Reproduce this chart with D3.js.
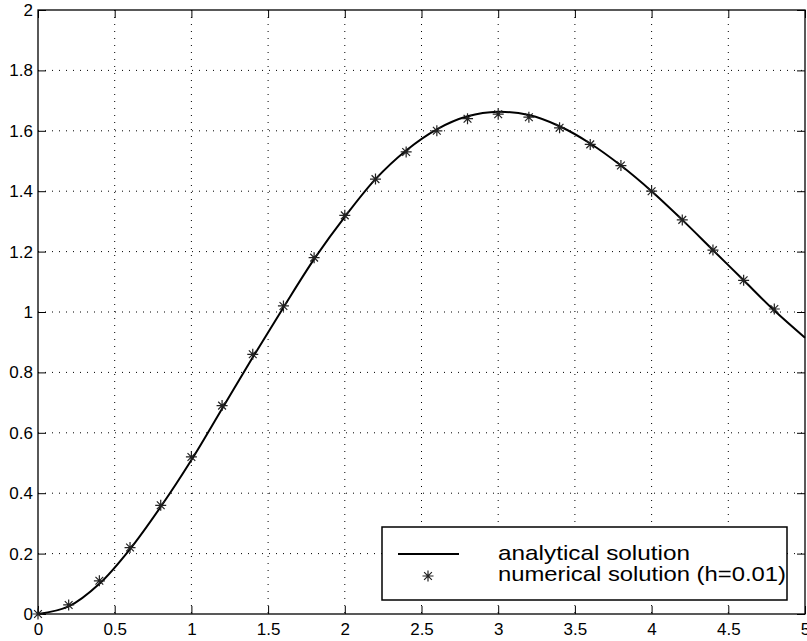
<!DOCTYPE html>
<html>
<head>
<meta charset="utf-8">
<script src="https://cdn.jsdelivr.net/npm/d3@7"></script>
<style>
  body { margin: 0; background: #fff; }
  svg { display: block; font-family: "Liberation Sans", Arial, sans-serif; }
</style>
</head>
<body>
<div id="chart"></div>
<script>
// analytical solution
var analytic_x = [0, 0.2, 0.4, 0.6, 0.8, 1.0, 1.2, 1.4, 1.6, 1.8, 2.0, 2.2, 2.4,
                  2.6, 2.8, 3.0, 3.2, 3.4, 3.6, 3.8, 4.0, 4.2, 4.4, 4.6, 4.8, 5.0];
var analytic_y = [0, 0.025, 0.10, 0.215, 0.355, 0.51, 0.68, 0.85, 1.015, 1.175, 1.315, 1.44, 1.535,
                  1.605, 1.648, 1.663, 1.652, 1.615, 1.558, 1.485, 1.40, 1.305, 1.205, 1.105, 1.005, 0.915];

// numerical solution (h=0.01), markers every 0.2
var numeric_x = [0, 0.2, 0.4, 0.6, 0.8, 1.0, 1.2, 1.4, 1.6, 1.8, 2.0, 2.2, 2.4,
                 2.6, 2.8, 3.0, 3.2, 3.4, 3.6, 3.8, 4.0, 4.2, 4.4, 4.6, 4.8];
var numeric_y = [0, 0.03, 0.11, 0.22, 0.36, 0.52, 0.69, 0.86, 1.02, 1.18, 1.32, 1.44, 1.53,
                 1.60, 1.64, 1.655, 1.645, 1.61, 1.555, 1.485, 1.40, 1.305, 1.205, 1.105, 1.01];

var x_ticks = [0, 0.5, 1, 1.5, 2, 2.5, 3, 3.5, 4, 4.5, 5];
var y_ticks = [0, 0.2, 0.4, 0.6, 0.8, 1, 1.2, 1.4, 1.6, 1.8, 2];
var legend_labels = ["analytical solution", "numerical solution (h=0.01)"];

var total_width = 807, total_height = 641;
var margin = {top: 10, right: 2, bottom: 27, left: 38},
    width = total_width - margin.left - margin.right,
    height = total_height - margin.top - margin.bottom;

var svg = d3.select("#chart").append("svg")
    .attr("width", total_width)
    .attr("height", total_height)
  .append("g")
    .attr("transform", "translate(" + margin.left + "," + margin.top + ")");

var x = d3.scaleLinear().domain([0, 5]).range([0, width]);
var y = d3.scaleLinear().domain([0, 2]).range([height, 0]);

// dotted grid
svg.append("g")
  .selectAll("line")
  .data(x_ticks.slice(1, -1))
  .enter().append("line")
    .attr("x1", d => x(d)).attr("x2", d => x(d))
    .attr("y1", 0).attr("y2", height)
    .attr("stroke", "#000").attr("stroke-width", 1)
    .attr("stroke-dasharray", "1,6");

svg.append("g")
  .selectAll("line")
  .data(y_ticks.slice(1, -1))
  .enter().append("line")
    .attr("x1", 0).attr("x2", width)
    .attr("y1", d => y(d)).attr("y2", d => y(d))
    .attr("stroke", "#000").attr("stroke-width", 1)
    .attr("stroke-dasharray", "1,6");

// axes, ticks pointing inward, on all four sides
var tick_len = 8;
var fmt = d => String(d);

svg.append("g")
    .attr("transform", "translate(0," + height + ")")
    .call(d3.axisBottom(x).tickValues(x_ticks).tickFormat(fmt).tickSize(-tick_len).tickPadding(9).tickSizeOuter(0))
    .call(g => g.select(".domain").remove());

svg.append("g")
    .call(d3.axisTop(x).tickValues(x_ticks).tickFormat("").tickSize(-tick_len).tickSizeOuter(0))
    .call(g => g.select(".domain").remove());

svg.append("g")
    .call(d3.axisLeft(y).tickValues(y_ticks).tickFormat(fmt).tickSize(-tick_len).tickPadding(5).tickSizeOuter(0))
    .call(g => g.select(".domain").remove());

svg.append("g")
    .attr("transform", "translate(" + width + ",0)")
    .call(d3.axisRight(y).tickValues(y_ticks).tickFormat("").tickSize(-tick_len).tickSizeOuter(0))
    .call(g => g.select(".domain").remove());

svg.selectAll(".tick line").attr("stroke", "#000").attr("stroke-width", 1);
svg.selectAll(".tick text")
    .attr("fill", "#000")
    .style("font-size", "17px")
    .style("font-family", "'Liberation Sans', Arial, sans-serif");

svg.append("rect")
    .attr("x", 0).attr("y", 0)
    .attr("width", width).attr("height", height)
    .attr("fill", "none").attr("stroke", "#000").attr("stroke-width", 1.3);

// analytical curve
var line = d3.line()
    .x(function(d, i) { return x(analytic_x[i]); })
    .y(function(d) { return y(d); })
    .curve(d3.curveCatmullRom.alpha(0.5));

svg.append("path")
    .datum(analytic_y)
    .attr("fill", "none")
    .attr("stroke", "#000")
    .attr("stroke-width", 2)
    .attr("d", line);

// star marker
function star(s) {
  var a = s * 0.707;
  return "M" + (-s) + ",0L" + s + ",0" +
         "M0," + (-s) + "L0," + s +
         "M" + (-a) + "," + (-a) + "L" + a + "," + a +
         "M" + (-a) + "," + a + "L" + a + "," + (-a);
}

svg.append("g")
  .selectAll("path")
  .data(numeric_y)
  .enter().append("path")
    .attr("transform", (d, i) => "translate(" + x(numeric_x[i]) + "," + y(d) + ")")
    .attr("d", star(5.5))
    .attr("fill", "none")
    .attr("stroke", "#222")
    .attr("stroke-width", 1.2);

// legend
var lg = svg.append("g").attr("transform", "translate(" + (382 - margin.left) + "," + (527 - margin.top) + ")");
lg.append("rect")
    .attr("width", 405).attr("height", 73)
    .attr("fill", "#fff").attr("stroke", "#000").attr("stroke-width", 1.5);
lg.append("line")
    .attr("x1", 16).attr("x2", 77).attr("y1", 27).attr("y2", 27)
    .attr("stroke", "#000").attr("stroke-width", 2);
lg.append("path")
    .attr("transform", "translate(46,49)")
    .attr("d", star(5.5))
    .attr("fill", "none").attr("stroke", "#222").attr("stroke-width", 1.2);
var legend_len = [192, 288];
lg.selectAll("text")
  .data(legend_labels)
  .enter().append("text")
    .attr("x", 116)
    .attr("y", (d, i) => 33 + i * 21)
    .attr("textLength", (d, i) => legend_len[i])
    .attr("lengthAdjust", "spacingAndGlyphs")
    .style("font-size", "21px")
    .attr("fill", "#000")
    .text(d => d);
</script>
</body>
</html>
